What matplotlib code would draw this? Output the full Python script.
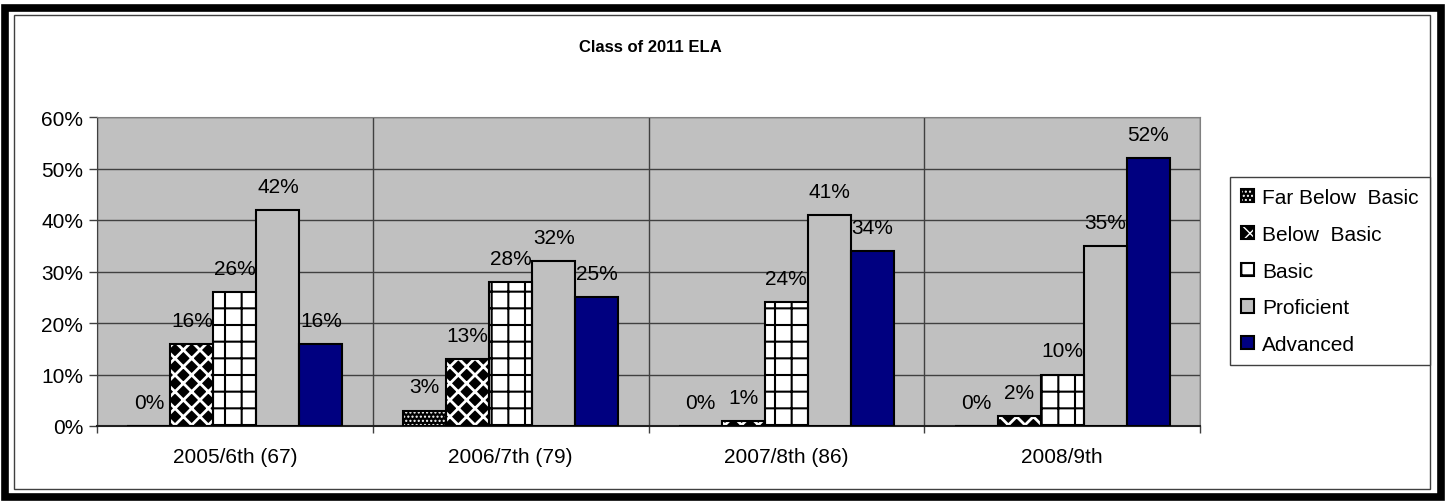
import matplotlib
matplotlib.use("Agg")
import matplotlib.pyplot as plt
from matplotlib.patches import Rectangle
from matplotlib.ticker import FixedLocator, FuncFormatter
from matplotlib.legend_handler import HandlerTuple
import numpy as np

# Chart data (percent of students per level)
categories = ["2005/6th (67)", "2006/7th (79)", "2007/8th (86)", "2008/9th"]
levels = ["Far Below  Basic", "Below  Basic", "Basic", "Proficient", "Advanced"]
far_below = [0, 3, 0, 0]
below = [16, 13, 1, 2]
basic = [26, 28, 24, 10]
proficient = [42, 32, 41, 35]
advanced = [16, 25, 34, 52]
series = [far_below, below, basic, proficient, advanced]

# fill colour, hatch, hatch colour, hatch linewidth
styles = [
    ("black", "....", "white", 1.0),
    ("black", "xx", "white", 2.0),
    ("white", "+", "black", 1.5),
    ("#C0C0C0", None, "black", 1.0),
    ("#000080", None, "black", 1.0),
]

plt.rcParams["font.family"] = ["Liberation Sans", "DejaVu Sans"]

fig = plt.figure(figsize=(14.45, 5.02), dpi=100)
ax = fig.add_axes([97 / 1445, 75 / 502, 1103 / 1445, 309 / 502])
ax.set_facecolor("#C0C0C0")

x = np.arange(len(categories))
w = 0.156
handles = []
for i, (name, vals) in enumerate(zip(levels, series)):
    face, hatch, hcol, hlw = styles[i]
    pos = x + (i - 2) * w
    fill = ax.bar(pos, vals, w, color=face, hatch=hatch, edgecolor=hcol, linewidth=0, zorder=3)
    for p in fill:
        if hasattr(p, "set_hatch_linewidth"):
            p.set_hatch_linewidth(hlw)
    outline = ax.bar(pos, vals, w, facecolor="none", edgecolor="black", linewidth=1.5, zorder=4)
    handles.append((fill[0], outline[0]))
    for xp, v in zip(pos, vals):
        ax.annotate(f"{v}%", (xp, v), xytext=(0, 13), textcoords="offset points",
                    ha="center", va="baseline", fontsize=15, zorder=5)

ax.set_xlim(-0.5, 3.5)
ax.set_ylim(0, 60)
ax.set_yticks(range(0, 61, 10))
ax.yaxis.set_major_formatter(FuncFormatter(lambda v, p: f"{v:.0f}%"))
ax.xaxis.set_major_locator(FixedLocator([-0.5, 0.5, 1.5, 2.5, 3.5]))
ax.xaxis.set_major_formatter(FuncFormatter(lambda v, p: ""))
ax.xaxis.set_minor_locator(FixedLocator(x))
ax.set_xticklabels(categories, minor=True)
ax.tick_params(axis="x", which="minor", length=0, pad=15, labelsize=15)
ax.tick_params(axis="x", which="major", length=5, width=1, color="#404040")
ax.tick_params(axis="y", length=6, width=1, color="#404040", pad=4, labelsize=15)
ax.grid(True, which="major", color="#404040", linewidth=1, zorder=1)
ax.set_axisbelow(True)
for side in ["top", "right"]:
    ax.spines[side].set_color("#808080")
ax.spines["left"].set_color("#404040")
ax.spines["bottom"].set_color("#202020")
ax.spines["bottom"].set_linewidth(1.5)

fig.text(650 / 1445, 1 - 47 / 502, "Class of 2011 ELA", ha="center", va="center",
         fontsize=12, fontweight="bold")

leg = fig.legend(handles, levels, loc="center left", bbox_to_anchor=(1230 / 1445, 0.458),
                 handler_map={tuple: HandlerTuple(ndivide=1)},
                 fontsize=15, handlelength=0.6, handleheight=0.6, handletextpad=0.4,
                 labelspacing=0.85, borderpad=0.55, borderaxespad=0, fancybox=False,
                 edgecolor="#404040", framealpha=1)
leg.get_frame().set_linewidth(1)

# figure border: thick black band with a thin inner line
fig.add_artist(Rectangle((4.5 / 1445, 4 / 502), 1436 / 1445, 489.5 / 502, transform=fig.transFigure,
                         fill=False, edgecolor="black", linewidth=5.5))
fig.add_artist(Rectangle((14 / 1445, 12 / 502), 1416 / 1445, 474 / 502, transform=fig.transFigure,
                         fill=False, edgecolor="#404040", linewidth=1))

fig.savefig("out.png", dpi=100)
